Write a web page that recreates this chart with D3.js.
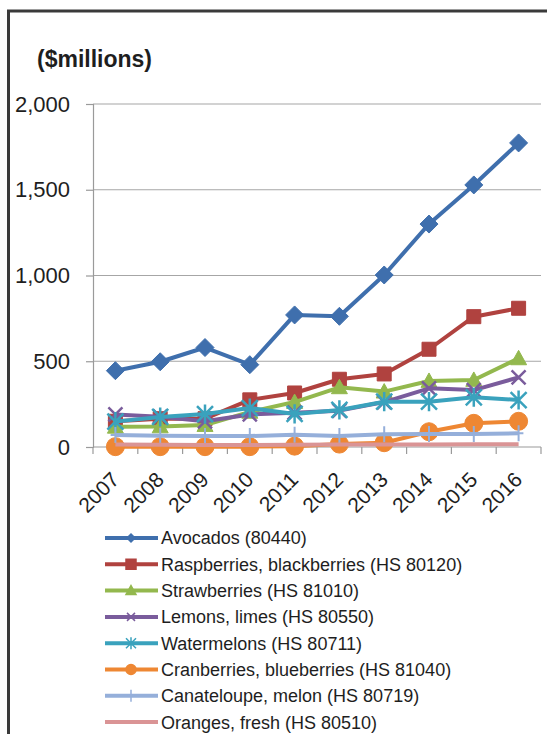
<!DOCTYPE html>
<html>
<head>
<meta charset="utf-8">
<script src="https://cdn.jsdelivr.net/npm/d3@7"></script>
<style>
  body { margin: 0; background: #fff; }
  svg text { font-family: "Liberation Sans", Arial, sans-serif; fill: #1e1e1e; }
</style>
</head>
<body>
<div id="chart"></div>
<script>
/* Data, $ millions */
var years = ["2007","2008","2009","2010","2011","2012","2013","2014","2015","2016"];
var yTicks = [0, 500, 1000, 1500, 2000];

var avocados     = [445, 497, 580, 480, 770, 762, 1003, 1300, 1528, 1773];
var raspberries  = [150, 165, 165, 275, 315, 395, 426, 570, 760, 809];
var strawberries = [118, 120, 128, 205, 262, 348, 323, 385, 391, 517];
var lemons       = [190, 177, 150, 190, 200, 212, 262, 342, 332, 406];
var watermelons  = [148, 175, 192, 227, 193, 216, 264, 264, 290, 274];
var cranberries  = [2, 2, 2, 2, 5, 17, 25, 89, 138, 150];
var cantaloupe   = [70, 65, 64, 64, 72, 64, 74, 76, 76, 80];
var oranges      = [14, 13, 12, 12, 13, 14, 15, 15, 16, 16];

var seriesNames = ["Avocados (80440)",
                   "Raspberries, blackberries (HS 80120)",
                   "Strawberries (HS 81010)",
                   "Lemons, limes (HS 80550)",
                   "Watermelons (HS 80711)",
                   "Cranberries, blueberries (HS 81040)",
                   "Canateloupe, melon (HS 80719)",
                   "Oranges, fresh (HS 80510)"];
var seriesValues = [avocados, raspberries, strawberries, lemons, watermelons, cranberries, cantaloupe, oranges];
var seriesColors = ["#3f6fad", "#b0423f", "#93b84e", "#7a5c9c", "#3aa2bd", "#ee8733", "#95afda", "#da9495"];
var seriesMarkers = ["diamond", "square", "triangle", "times", "asterisk", "circle", "plus", "none"];

var W = 547, H = 734;
var plot = {left: 93, right: 541, top: 104, bottom: 447};

var svg = d3.select("#chart").append("svg").attr("width", W).attr("height", H);

/* outer chart frame (runs off the right and bottom edge) */
svg.append("rect")
    .attr("x", 8.5).attr("y", 11)
    .attr("width", 600).attr("height", 800)
    .attr("fill", "none")
    .attr("stroke", "#3a3a3a")
    .attr("stroke-width", 3);

var x = d3.scaleBand().domain(years).range([plot.left, plot.right]).padding(0);
var y = d3.scaleLinear().domain([0, 2000]).range([plot.bottom, plot.top]);

/* gridlines */
svg.append("g").selectAll("line")
    .data(yTicks.filter(function(d) { return d > 0; }))
    .enter().append("line")
    .attr("x1", plot.left).attr("x2", plot.right)
    .attr("y1", function(d) { return y(d); })
    .attr("y2", function(d) { return y(d); })
    .attr("stroke", "#a6a6a6")
    .attr("stroke-width", 1.2);

/* y axis */
var yAxis = svg.append("g")
    .attr("transform", "translate(" + plot.left + ",0)")
    .call(d3.axisLeft(y).tickValues(yTicks).tickSize(7).tickPadding(16).tickFormat(d3.format(",")));
yAxis.select(".domain").attr("stroke", "#9a9a9a").attr("stroke-width", 1.2);
yAxis.selectAll(".tick line").attr("stroke", "#9a9a9a").attr("stroke-width", 1.2);
yAxis.selectAll("text").style("font-size", "22px").attr("fill", "#1e1e1e");

/* x axis: ticks sit on the band edges */
svg.append("line")
    .attr("x1", plot.left).attr("x2", plot.right)
    .attr("y1", plot.bottom).attr("y2", plot.bottom)
    .attr("stroke", "#9a9a9a").attr("stroke-width", 1.2);
svg.append("g").selectAll("line")
    .data(years.concat(["end"]))
    .enter().append("line")
    .attr("x1", function(d, i) { return plot.left + i * x.bandwidth(); })
    .attr("x2", function(d, i) { return plot.left + i * x.bandwidth(); })
    .attr("y1", plot.bottom).attr("y2", plot.bottom + 7)
    .attr("stroke", "#9a9a9a").attr("stroke-width", 1.2);

svg.append("g").selectAll("text")
    .data(years)
    .enter().append("text")
    .attr("transform", function(d) {
        return "translate(" + (x(d) + x.bandwidth() / 2 + 5) + "," + 481 + ") rotate(-45)";
    })
    .attr("text-anchor", "end")
    .style("font-size", "21px")
    .text(function(d) { return d; });

/* unit label */
svg.append("text")
    .attr("x", 37).attr("y", 67)
    .style("font-size", "23px")
    .style("font-weight", "bold")
    .text("($millions)");

/* marker shapes, s = half width */
function markerPath(type, s) {
    if (type == "diamond") return "M0," + (-s) + "L" + s + ",0L0," + s + "L" + (-s) + ",0Z";
    if (type == "square") return "M" + (-s) + "," + (-s) + "h" + (2 * s) + "v" + (2 * s) + "h" + (-2 * s) + "Z";
    if (type == "triangle") return "M0," + (-s) + "L" + s + "," + (s * 0.8) + "L" + (-s) + "," + (s * 0.8) + "Z";
    if (type == "circle") return d3.arc()({innerRadius: 0, outerRadius: s, startAngle: 0, endAngle: 2 * Math.PI});
    if (type == "times") return "M" + (-s) + "," + (-s) + "L" + s + "," + s + "M" + s + "," + (-s) + "L" + (-s) + "," + s;
    if (type == "asterisk") return "M" + (-s) + "," + (-s) + "L" + s + "," + s + "M" + s + "," + (-s) + "L" + (-s) + "," + s +
                                   "M0," + (-s * 1.2) + "L0," + (s * 1.2);
    if (type == "plus") return "M0," + (-s) + "L0," + s + "M" + (-s * 0.6) + ",0L" + (s * 0.6) + ",0";
    return "";
}
var filled = {diamond: true, square: true, triangle: true, circle: true};
var plotSize = {diamond: 9, square: 7, triangle: 8, circle: 9, times: 7, asterisk: 8, plus: 8};
var legendSize = {diamond: 4, square: 5, triangle: 5, circle: 5, times: 4, asterisk: 5, plus: 6};

var line = d3.line()
    .x(function(d, i) { return x(years[i]) + x.bandwidth() / 2; })
    .y(function(d) { return y(d); });

/* series, first one drawn at the bottom like Excel */
seriesValues.forEach(function(vals, k) {
    var g = svg.append("g").attr("class", "series");
    var col = seriesColors[k];
    var m = seriesMarkers[k];

    g.append("path")
        .datum(vals)
        .attr("d", line)
        .attr("fill", "none")
        .attr("stroke", col)
        .attr("stroke-width", 4)
        .attr("stroke-linejoin", "round");

    if (m == "none") return;
    g.selectAll(".mk")
        .data(vals)
        .enter().append("path")
        .attr("class", "mk")
        .attr("transform", function(d, i) {
            return "translate(" + (x(years[i]) + x.bandwidth() / 2) + "," + y(d) + ")";
        })
        .attr("d", markerPath(m, plotSize[m]))
        .attr("fill", filled[m] ? col : "none")
        .attr("stroke", col)
        .attr("stroke-width", filled[m] ? 1 : (m == "plus" ? 2 : 2.5));
});

/* legend */
var legend = svg.append("g").selectAll("g")
    .data(seriesNames)
    .enter().append("g")
    .attr("transform", function(d, i) { return "translate(0," + (538 + i * 26.3) + ")"; });

legend.append("line")
    .attr("x1", 105).attr("x2", 158)
    .attr("stroke", function(d, i) { return seriesColors[i]; })
    .attr("stroke-width", 4);

legend.append("path")
    .attr("transform", "translate(131,0)")
    .attr("d", function(d, i) { var m = seriesMarkers[i]; return markerPath(m, legendSize[m] || 0); })
    .attr("fill", function(d, i) { return filled[seriesMarkers[i]] ? seriesColors[i] : "none"; })
    .attr("stroke", function(d, i) { return seriesColors[i]; })
    .attr("stroke-width", 1.5);

legend.append("text")
    .attr("x", 161)
    .attr("dy", "0.36em")
    .style("font-size", "18px")
    .text(function(d) { return d; });
</script>
</body>
</html>
